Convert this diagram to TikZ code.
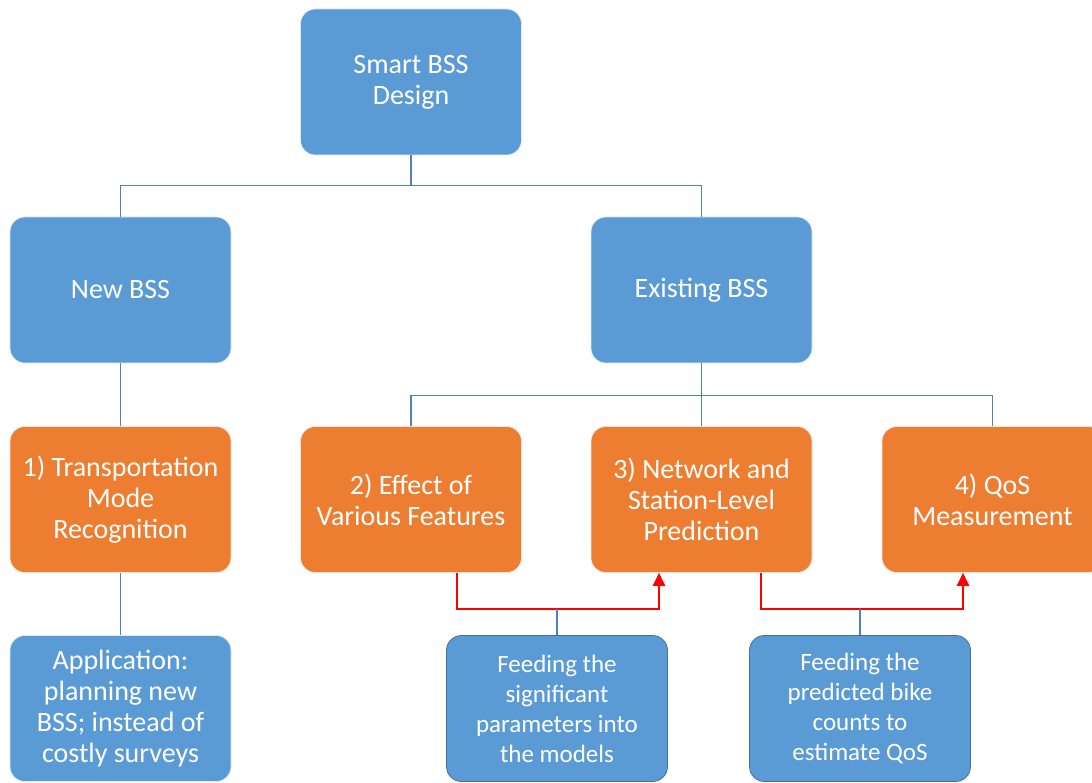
\documentclass[tikz,border=0pt]{standalone}
\usepackage{fontspec}
\setmainfont{Carlito}
\usepackage{tikz}
\usetikzlibrary{arrows.meta}

\definecolor{bssblue}{RGB}{91,155,213}
\definecolor{bssedge}{RGB}{65,113,156}
\definecolor{bssorange}{RGB}{237,125,49}
\definecolor{bssline}{RGB}{79,129,189}

\tikzset{
  box/.style={rounded corners=15pt, minimum width=221pt, minimum height=146pt,
    inner sep=2pt, align=center, text=white, font=\fontsize{28}{31}\selectfont},
  bluebox/.style={box, fill=bssblue, draw=white!80!bssblue, line width=0.6pt},
  feedbox/.style={box, fill=bssblue, draw=bssedge, line width=0.8pt,
    font=\fontsize{25}{30}\selectfont},
  orangebox/.style={box, fill=bssorange, draw=white!80!bssorange, line width=0.6pt},
  link/.style={draw=bssline, line width=1.1pt},
  feedarrow/.style={draw=red, line width=2pt, -{Triangle[width=12pt,length=13pt]}},
}

\begin{document}
\begin{tikzpicture}[x=1pt,y=-1pt]
\useasboundingbox (0,0) rectangle (1092,783);

% top level
\node[bluebox] (design) at (411,82) {Smart BSS\\Design};

% second level
\node[bluebox] (newbss) at (120.5,290) {New BSS};
\node[bluebox] (oldbss) at (701.5,290) {Existing BSS};

% research topics
\node[orangebox] (mode) at (120.5,499.5) {1) Transportation\\Mode\\Recognition};
\node[orangebox] (feat) at (411,499.5) {2) Effect of\\Various Features};
\node[orangebox] (pred) at (701.5,499.5) {3) Network and\\Station-Level\\Prediction};
\node[orangebox] (qos) at (992.5,499.5) {4) QoS\\Measurement};

% bottom boxes
\node[bluebox] (app) at (120.5,708.5) {Application:\\planning new\\BSS; instead of\\costly surveys};
\node[feedbox] (feedpar) at (557,708.5) {Feeding the\\significant\\parameters into\\the models};
\node[feedbox] (feedcnt) at (860,708.5) {Feeding the\\predicted bike\\counts to\\estimate QoS};

% tree connectors
\draw[link] (design.south) -- ++(0,30) coordinate (top);
\draw[link] (top) -| (newbss.north);
\draw[link] (top) -| (oldbss.north);
\draw[link] (newbss.south) -- (mode.north);
\draw[link] (mode.south) -- (app.north);
\draw[link] (oldbss.south) -- ++(0,32) coordinate (mid);
\draw[link] (mid) -| (feat.north);
\draw[link] (mid) -| (qos.north);
\draw[link] (mid) -- (pred.north);

% feeding arrows
\draw[feedarrow] ([xshift=46pt]feat.south) -- ++(0,36) -| ([xshift=-42.5pt]pred.south);
\draw[link] (feedpar.north) -- ++(0,-26);
\draw[feedarrow] ([xshift=59.5pt]pred.south) -- ++(0,36) -| ([xshift=-29.5pt]qos.south);
\draw[link] (feedcnt.north) -- ++(0,-26);

\end{tikzpicture}
\end{document}
